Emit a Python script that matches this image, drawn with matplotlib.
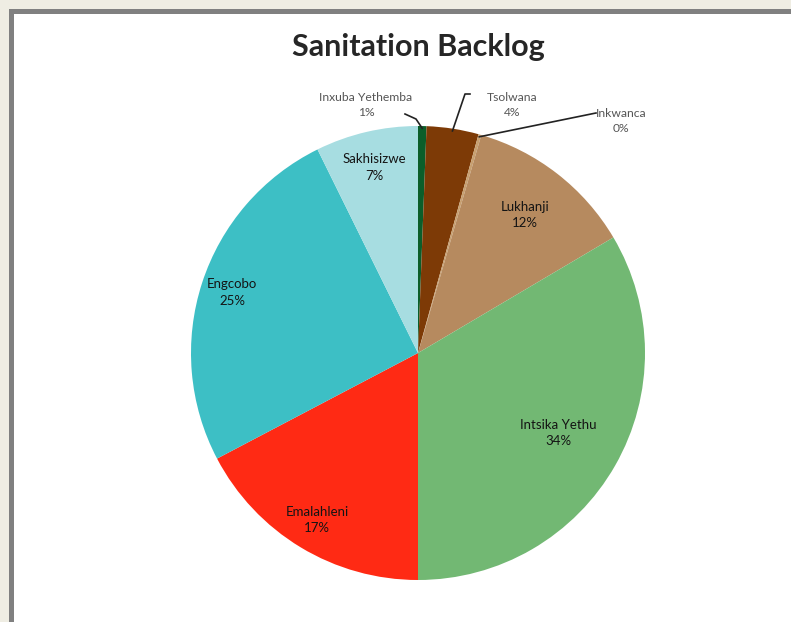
import numpy as np
import matplotlib.pyplot as plt
from matplotlib.patches import Rectangle

# --- data ---
names = ['Inxuba Yethemba', 'Tsolwana', 'Inkwanca', 'Lukhanji',
         'Intsika Yethu', 'Emalahleni', 'Engcobo', 'Sakhisizwe']
shares = [0.6, 3.7, 0.2, 12.0, 33.5, 17.3, 25.4, 7.3]
colors = ['#0b5e2a', '#7d3a06', '#c8a070', '#b68a5f',
          '#72b873', '#ff2a14', '#3dbfc5', '#a7dde1']

W, H = 791, 622
fig = plt.figure(figsize=(W / 100, H / 100), dpi=100, facecolor='#efede3')
ax = fig.add_axes([0, 0, 1, 1])

# frame: grey edge on left/top, white panel
ax.add_patch(Rectangle((9, 0), W, H - 9, facecolor='#808080', lw=0))
ax.add_patch(Rectangle((14, 0), W, H - 14, facecolor='white', lw=0))

cx, cy, R = 418, H - 353, 227
wedges, _ = ax.pie(shares, colors=colors, startangle=90, counterclock=False,
                   center=(cx, cy), radius=R, frame=True,
                   wedgeprops=dict(linewidth=0))
ax.set_xlim(0, W)
ax.set_ylim(0, H)
ax.set_aspect('equal')
ax.axis('off')

labels = [f'{n}\n{s:.0f}%' for n, s in zip(names, shares)]

# mid-angle of each wedge (degrees, mathematical convention)
cum = np.cumsum([0] + shares)
mid = 90 - 360 * (cum[:-1] + cum[1:]) / 2 / 100

inside = {3: 0.77, 4: 0.71, 5: 0.86, 6: 0.86, 7: 0.84}
for i, f in inside.items():
    a = np.radians(mid[i])
    ax.text(cx + f * R * np.cos(a), cy + f * R * np.sin(a), labels[i],
            ha='center', va='center', fontsize=9.5, family='Lato',
            color='#141414', linespacing=1.45)

# small slices: labels outside with leader lines
outside = {0: (366, 105, [(405, 114), (416, 119)]),
           1: (512, 105, [(470, 94), (465, 94)]),
           2: (621, 121, [(596, 113)])}
for i, (tx, ty, pts) in outside.items():
    a = np.radians(mid[i])
    ex, ey = cx + 0.99 * R * np.cos(a), cy + 0.99 * R * np.sin(a)
    ax.text(tx, H - ty, labels[i], ha='center', va='center', fontsize=8.7,
            family='Lato', color='#555555', linespacing=1.45)
    xs = [p[0] for p in pts] + [ex]
    ys = [H - p[1] for p in pts] + [ey]
    ax.plot(xs, ys, color='#222222', lw=1.2)

ax.text(418, H - 47, 'Sanitation Backlog', ha='center', va='center',
        fontsize=22, fontweight='bold', family='Lato', color='#262626')

fig.savefig('out.png', dpi=100, facecolor=fig.get_facecolor())
